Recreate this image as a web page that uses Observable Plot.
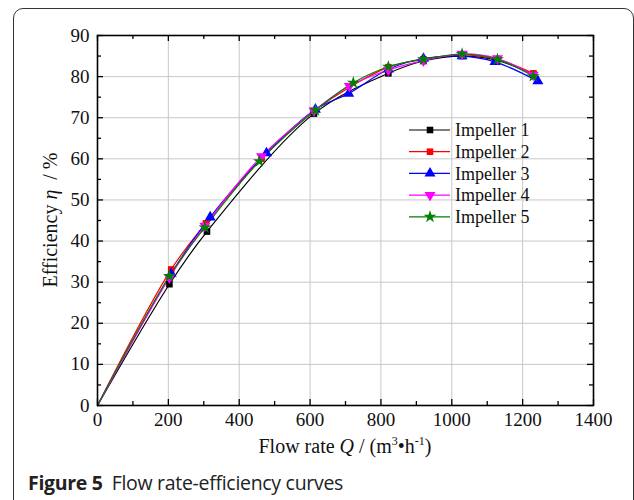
<!DOCTYPE html>
<html><head><meta charset="utf-8">
<script src="https://cdn.jsdelivr.net/npm/d3@7"></script>
<script src="https://cdn.jsdelivr.net/npm/@observablehq/plot@0.6"></script>
<style>
body{margin:0;background:#fff;width:634px;height:500px;overflow:hidden;position:relative;}
#box{position:absolute;left:13px;top:8px;width:619px;height:540px;border:1px solid #333;border-radius:10px;}
#chart{position:absolute;left:0;top:0;}
#caption{position:absolute;left:28px;top:469px;font-family:'Open Sans',sans-serif;font-size:19.5px;color:#222;white-space:nowrap;letter-spacing:-0.3px;}
#caption b{font-weight:700;margin-right:9px;}
</style>
</head><body>
<div id="box"></div>
<div id="chart"></div>
<div id="caption"><b>Figure 5</b>Flow rate-efficiency curves</div>
<script>
const seriesNames = ["Impeller 1","Impeller 2","Impeller 3","Impeller 4","Impeller 5"];
const seriesColors = ["#000000","#ff0000","#0000ff","#ff00ff","#008000"];
const q1 = [0,203,309,611,821,920,1029,1126,1230];
const e1 = [0,29.5,42.3,71.0,80.8,83.8,85.0,84.0,80.6];
const q2 = [0,208,306,463,611,821,920,1029,1126,1230];
const e2 = [0,33.1,44.3,60.0,71.7,82.3,84.2,85.3,84.2,80.8];
const q3 = [0,208,318,477,615,709,821,920,1029,1122,1243];
const e3 = [0,32.1,45.8,61.4,72.0,75.9,81.8,84.4,85.0,83.6,78.9];
const q4 = [0,203,303,463,611,711,821,920,1029,1129,1230];
const e4 = [0,31.1,43.7,60.6,71.7,77.7,81.6,83.9,85.5,84.4,80.4];
const q5 = [0,203,303,457,615,722,821,920,1029,1129,1230];
const e5 = [0,31.5,43.3,59.4,71.8,78.5,82.4,84.2,85.5,84.2,80.1];
const xTicks = [0,200,400,600,800,1000,1200,1400];
const xMinor = [100,300,500,700,900,1100,1300];
const yTicks = [0,10,20,30,40,50,60,70,80,90];
const yMinor = [5,15,25,35,45,55,65,75,85];

const qs = [q1,q2,q3,q4,q5];
const es = [e1,e2,e3,e4,e5];
const SERIF = "'Liberation Serif', 'Times New Roman', serif";

const triangleDown = {
  draw(ctx, size) {
    const y = -Math.sqrt(size / (Math.sqrt(3) * 3));
    ctx.moveTo(0, -y * 2);
    ctx.lineTo(-Math.sqrt(3) * y, y);
    ctx.lineTo(Math.sqrt(3) * y, y);
    ctx.closePath();
  }
};
const symbols = [d3.symbolSquare, d3.symbolSquare, d3.symbolTriangle, triangleDown, d3.symbolStar];
const radii = [3.7, 3.7, 4.1, 4.1, 4.0];

const W = 634, H = 460, mL = 97, mR = 41, mT = 35, mB = 55;
const fw = W - mL - mR, fh = H - mT - mB;

const marks = [
  Plot.gridX(xTicks, {stroke: "#c8c8c8", strokeOpacity: 1, strokeWidth: 1}),
  Plot.gridY(yTicks, {stroke: "#c8c8c8", strokeOpacity: 1, strokeWidth: 1}),
  Plot.axisX(xTicks, {anchor: "bottom", tickSize: 0, tickPadding: 7, fontSize: 19, label: null, tickFormat: d => String(d)}),
  Plot.axisY(yTicks, {anchor: "left", tickSize: 0, tickPadding: 8, fontSize: 19, label: null, tickFormat: d => String(d)}),
  Plot.tickX(xTicks, {x: d => d, insetTop: fh - 6, stroke: "#000", strokeWidth: 1.3}),
  Plot.tickX(xMinor, {x: d => d, insetTop: fh - 4, stroke: "#000", strokeWidth: 1.3}),
  Plot.tickX(xTicks, {x: d => d, insetBottom: fh - 6, stroke: "#000", strokeWidth: 1.3}),
  Plot.tickX(xMinor, {x: d => d, insetBottom: fh - 4, stroke: "#000", strokeWidth: 1.3}),
  Plot.tickY(yTicks, {y: d => d, insetRight: fw - 6, stroke: "#000", strokeWidth: 1.3}),
  Plot.tickY(yMinor, {y: d => d, insetRight: fw - 4, stroke: "#000", strokeWidth: 1.3}),
  Plot.tickY(yTicks, {y: d => d, insetLeft: fw - 6, stroke: "#000", strokeWidth: 1.3}),
  Plot.tickY(yMinor, {y: d => d, insetLeft: fw - 4, stroke: "#000", strokeWidth: 1.3})
];
seriesNames.forEach((name, i) => {
  const rows = qs[i].map((q, j) => ({q, e: es[i][j]}));
  marks.push(Plot.line(rows, {x: "q", y: "e", stroke: seriesColors[i], strokeWidth: 1.2, curve: "catmull-rom"}));
});
seriesNames.forEach((name, i) => {
  const rows = qs[i].map((q, j) => ({q, e: es[i][j]})).filter(d => d.q > 0);
  marks.push(Plot.dot(rows, {x: "q", y: "e", fill: seriesColors[i], stroke: "none", symbol: symbols[i], r: radii[i]}));
});
marks.push(Plot.frame({stroke: "#000", strokeWidth: 1.6}));

const chart = Plot.plot({
  width: W, height: H,
  marginLeft: mL, marginRight: mR, marginTop: mT, marginBottom: mB,
  x: {domain: [0, 1400]},
  y: {domain: [0, 90]},
  style: {fontFamily: SERIF, fontSize: "19px", color: "#111", background: "transparent", overflow: "visible"},
  marks
});
document.getElementById("chart").appendChild(chart);

const svg = d3.select(chart);
const xl = svg.append("text").attr("x", mL + fw / 2).attr("y", 453).attr("text-anchor", "middle")
  .attr("font-family", SERIF).attr("font-size", 20).attr("fill", "#111");
xl.append("tspan").text("Flow rate ");
xl.append("tspan").attr("font-style", "italic").text("Q");
xl.append("tspan").text(" / (m");
xl.append("tspan").attr("font-size", 12).attr("dy", -8).text("3");
xl.append("tspan").attr("dy", 8).text("\u2022h");
xl.append("tspan").attr("font-size", 12).attr("dy", -8).text("-1");
xl.append("tspan").attr("dy", 8).text(")");

const yl = svg.append("text").attr("transform", `translate(57,${mT + fh / 2}) rotate(-90)`).attr("text-anchor", "middle")
  .attr("font-family", SERIF).attr("font-size", 20).attr("fill", "#111");
yl.append("tspan").text("Efficiency ");
yl.append("tspan").attr("font-style", "italic").text("\u03B7");
yl.append("tspan").text("\u00A0\u00A0/ %");

// legend (inside the frame, top-right area)
const lg = svg.append("g").attr("transform", "translate(409,130)");
seriesNames.forEach((name, i) => {
  const g = lg.append("g").attr("transform", `translate(0,${i * 21.7})`);
  g.append("line").attr("x1", 0).attr("x2", 41).attr("y1", 0).attr("y2", 0).attr("stroke", seriesColors[i]).attr("stroke-width", 1.2);
  g.append("path").attr("transform", "translate(21,0)").attr("fill", seriesColors[i])
    .attr("d", d3.symbol(symbols[i], Math.PI * radii[i] * radii[i])());
  g.append("text").attr("x", 46).attr("y", 0).attr("dy", "0.34em").attr("text-anchor", "start")
    .attr("font-family", SERIF).attr("font-size", 18).attr("fill", "#111").text(name);
});
</script>
</body></html>
